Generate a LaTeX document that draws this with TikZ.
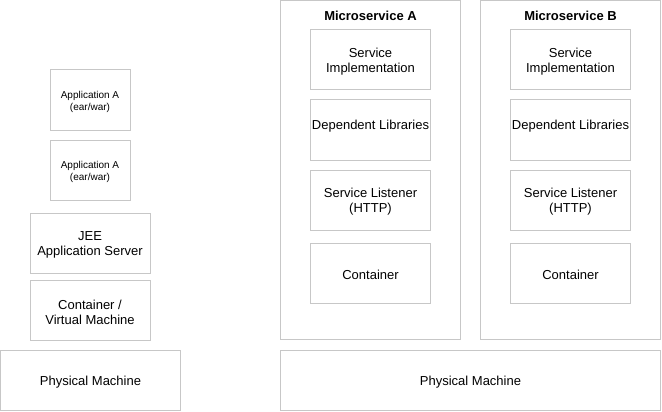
\documentclass[tikz,border=0pt]{standalone}
\usepackage{fontspec}
\setmainfont{Liberation Sans}
\newcommand{\bigst}{\rule{0pt}{13.5pt}}
\newcommand{\smallst}{\rule{0pt}{11pt}}
\begin{document}
\begin{tikzpicture}[x=1pt,y=-1pt,
  box/.style={draw=black!22, line width=1pt, inner sep=0pt, align=center,
    font=\fontsize{13}{15}\selectfont, text=black},
  smallbox/.style={box, font=\fontsize{10}{12.3}\selectfont},
  title/.style={inner sep=0pt, font=\fontsize{13}{15}\selectfont\bfseries}]
\useasboundingbox (0,0) rectangle (662,412);
% left stack
\node[smallbox, minimum width=80pt, minimum height=60pt] (app1) at (90,100) {\smallst Application A\\(ear/war)};
\node[smallbox, minimum width=80pt, minimum height=60pt] (app2) at (90,170) {\smallst Application A\\(ear/war)};
\node[box, minimum width=120pt, minimum height=60pt] (jee) at (90,243) {\bigst JEE\\Application Server};
\node[box, minimum width=120pt, minimum height=60pt] (vm) at (90,310) {\bigst Container /\\Virtual Machine};
\node[box, minimum width=180pt, minimum height=60pt] (pm1) at (90.5,380) {\bigst Physical Machine};
% microservice A
\node[box, minimum width=180pt, minimum height=339pt] (msa) at (370.5,170) {};
\node[title] (msat) at (370.5,15.5) {Microservice A};
\node[box, minimum width=120pt, minimum height=60pt] (sia) at (370.5,60) {\bigst Service\\Implementation};
\node[box, minimum width=120pt, minimum height=60pt] (dla) at (370.5,130) {\bigst Dependent Libraries\\ \mbox{}};
\node[box, minimum width=120pt, minimum height=60pt] (sla) at (370.5,200) {\bigst Service Listener\\(HTTP)};
\node[box, minimum width=120pt, minimum height=60pt] (ca) at (370.5,273) {\bigst Container};
% microservice B
\node[box, minimum width=180pt, minimum height=339pt] (msb) at (570.5,170) {};
\node[title] (msbt) at (570.5,15.5) {Microservice B};
\node[box, minimum width=120pt, minimum height=60pt] (sib) at (570.5,60) {\bigst Service\\Implementation};
\node[box, minimum width=120pt, minimum height=60pt] (dlb) at (570.5,130) {\bigst Dependent Libraries\\ \mbox{}};
\node[box, minimum width=120pt, minimum height=60pt] (slb) at (570.5,200) {\bigst Service Listener\\(HTTP)};
\node[box, minimum width=120pt, minimum height=60pt] (cb) at (570.5,273) {\bigst Container};
% physical machine right
\node[box, minimum width=380pt, minimum height=60pt] (pm2) at (470.5,380) {\bigst Physical Machine};
\end{tikzpicture}
\end{document}
